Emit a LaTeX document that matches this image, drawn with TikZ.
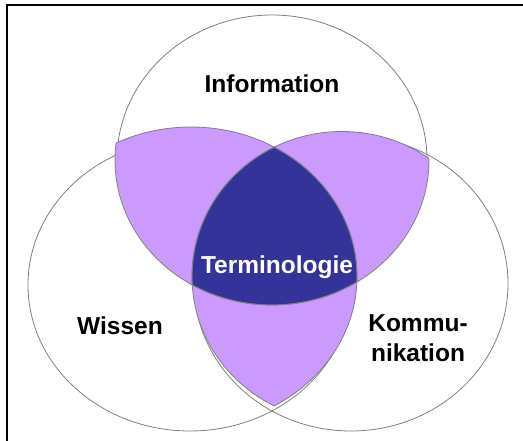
\documentclass[tikz,border=0pt]{standalone}
\usepackage{fontspec}
\setmainfont{Liberation Sans}
\definecolor{lilac}{RGB}{204,153,255}
\definecolor{darkv}{RGB}{51,51,153}
\definecolor{edgegray}{RGB}{128,128,128}
\begin{document}
\begin{tikzpicture}[x=1pt,y=-1pt,
  pOT/.style={insert path={(272,160) ellipse [x radius=155pt, y radius=145pt]}},
  pOL/.style={insert path={(190,285) ellipse [x radius=162pt, y radius=146pt]}},
  pOR/.style={insert path={(351,283.5) ellipse [x radius=157pt, y radius=147.5pt]}},
  pFT/.style={insert path={(272,160) ellipse [x radius=157pt, y radius=145pt]}},
  pFL/.style={insert path={(191,276.5) ellipse [x radius=166pt, y radius=149.5pt]}},
  pFR/.style={insert path={(342,276.5) ellipse [x radius=150pt, y radius=145pt]}},
  outl/.style={draw=edgegray, line width=0.8pt},
  lbl/.style={inner sep=0pt, font=\fontsize{24.5}{29.5}\selectfont\bfseries}]
\useasboundingbox (0,0) rectangle (523,441);
\fill[white] (0,0) rectangle (523,441);
% frame
\coordinate (fbl) at (7,441);
\coordinate (ftl) at (7,5);
\coordinate (ftr) at (523,5);
\draw[black, line width=2pt] (fbl) -- (ftl) -- (ftr);
% outline circles
\path[outl, pOT];
\path[outl, pOL];
\path[outl, pOR];
% purple lenses
\begin{scope}\clip[pFT]; \fill[lilac, pFL]; \end{scope}
\begin{scope}\clip[pFT]; \fill[lilac, pFR]; \end{scope}
\begin{scope}\clip[pFL]; \fill[lilac, pFR]; \end{scope}
% dark centre
\begin{scope}\clip[pFT]; \clip[pFL]; \fill[darkv, pFR]; \end{scope}
% region borders
\begin{scope}\clip[pFL]; \path[outl, pFT]; \end{scope}
\begin{scope}\clip[pFR]; \path[outl, pFT]; \end{scope}
\begin{scope}\clip[pFT]; \path[outl, pFL]; \end{scope}
\begin{scope}\clip[pFR]; \path[outl, pFL]; \end{scope}
\begin{scope}\clip[pFT]; \path[outl, pFR]; \end{scope}
\begin{scope}\clip[pFL]; \path[outl, pFR]; \end{scope}
% labels
\node[lbl] (info) at (272,84) {Information};
\node[lbl, text=white] (term) at (277,267) {Terminologie};
\node[lbl] (wissen) at (120,326) {Wissen};
\node[lbl, align=center] (komm) at (418,338) {Kommu-\\nikation};
\end{tikzpicture}
\end{document}
